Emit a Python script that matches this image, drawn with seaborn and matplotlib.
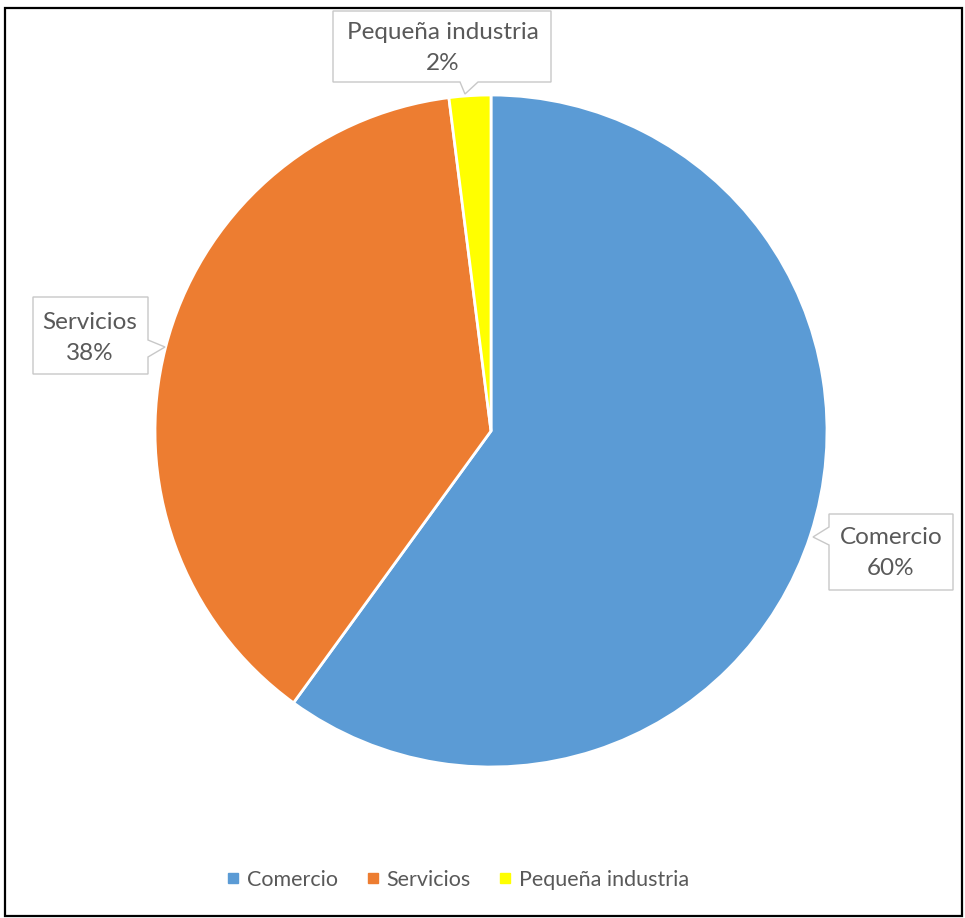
import matplotlib
matplotlib.use('Agg')
import matplotlib.pyplot as plt
from matplotlib.lines import Line2D
from matplotlib.patches import Polygon, Rectangle
import seaborn as sns
import numpy as np

# 数据
categories = ['Comercio', 'Servicios', 'Pequeña industria']
values = [60, 38, 2]
colors = sns.color_palette(['#5B9BD5', '#ED7D31', '#FFFF00'])

sns.set_theme(style='white')
plt.rcParams['font.family'] = ['Lato', 'DejaVu Sans']

W, H = 965, 918
fig = plt.figure(figsize=(W / 100, H / 100), dpi=100)
ax = fig.add_axes([0, 0, 1, 1])

# 饼图 (像素坐标, y 向上)
cx, cy, r = 491, H - 431, 336
wedges, _ = ax.pie(values, colors=colors, startangle=90, counterclock=False,
                   center=(cx, cy), radius=r,
                   wedgeprops=dict(edgecolor='white', linewidth=2))
ax.set_aspect('auto')
ax.set_xlim(0, W)
ax.set_ylim(0, H)
ax.axis('off')

# 外框
ax.add_patch(Rectangle((5, H - 916), 957, 908, fill=False, edgecolor='black', linewidth=1.6))

# 标签框 (带指针)
def callout(pts, text, tx, ty):
    poly = Polygon([(x, H - y) for x, y in pts], closed=True, facecolor='white',
                   edgecolor='#C8C8C8', linewidth=1.0, zorder=5)
    ax.add_patch(poly)
    ax.text(tx, H - ty, text, ha='center', va='center', fontsize=17.5,
            color='#595959', linespacing=1.55, zorder=6)

callout([(333, 11), (551, 11), (551, 82), (478, 82), (465, 94), (460, 82), (333, 82)],
        f'{categories[2]}\n{values[2]}%', 443, 48)
callout([(33, 297), (148, 297), (148, 340), (165, 347), (148, 357), (148, 374), (33, 374)],
        f'{categories[1]}\n{values[1]}%', 90, 338)
callout([(829, 514), (953, 514), (953, 590), (829, 590), (829, 545), (813, 537), (829, 527)],
        f'{categories[0]}\n{values[0]}%', 891, 553)

# 图例
handles = [Line2D([0], [0], marker='s', linestyle='', markersize=7,
                  markerfacecolor=c, markeredgecolor=c) for c in colors]
ax.legend(handles, categories, loc='center', bbox_to_anchor=(458 / W, 1 - 880 / H),
          ncol=3, frameon=False, fontsize=15.5, handlelength=0.6, handletextpad=0.35,
          columnspacing=1.3, labelcolor='#595959')

fig.savefig('out.png', dpi=100)
